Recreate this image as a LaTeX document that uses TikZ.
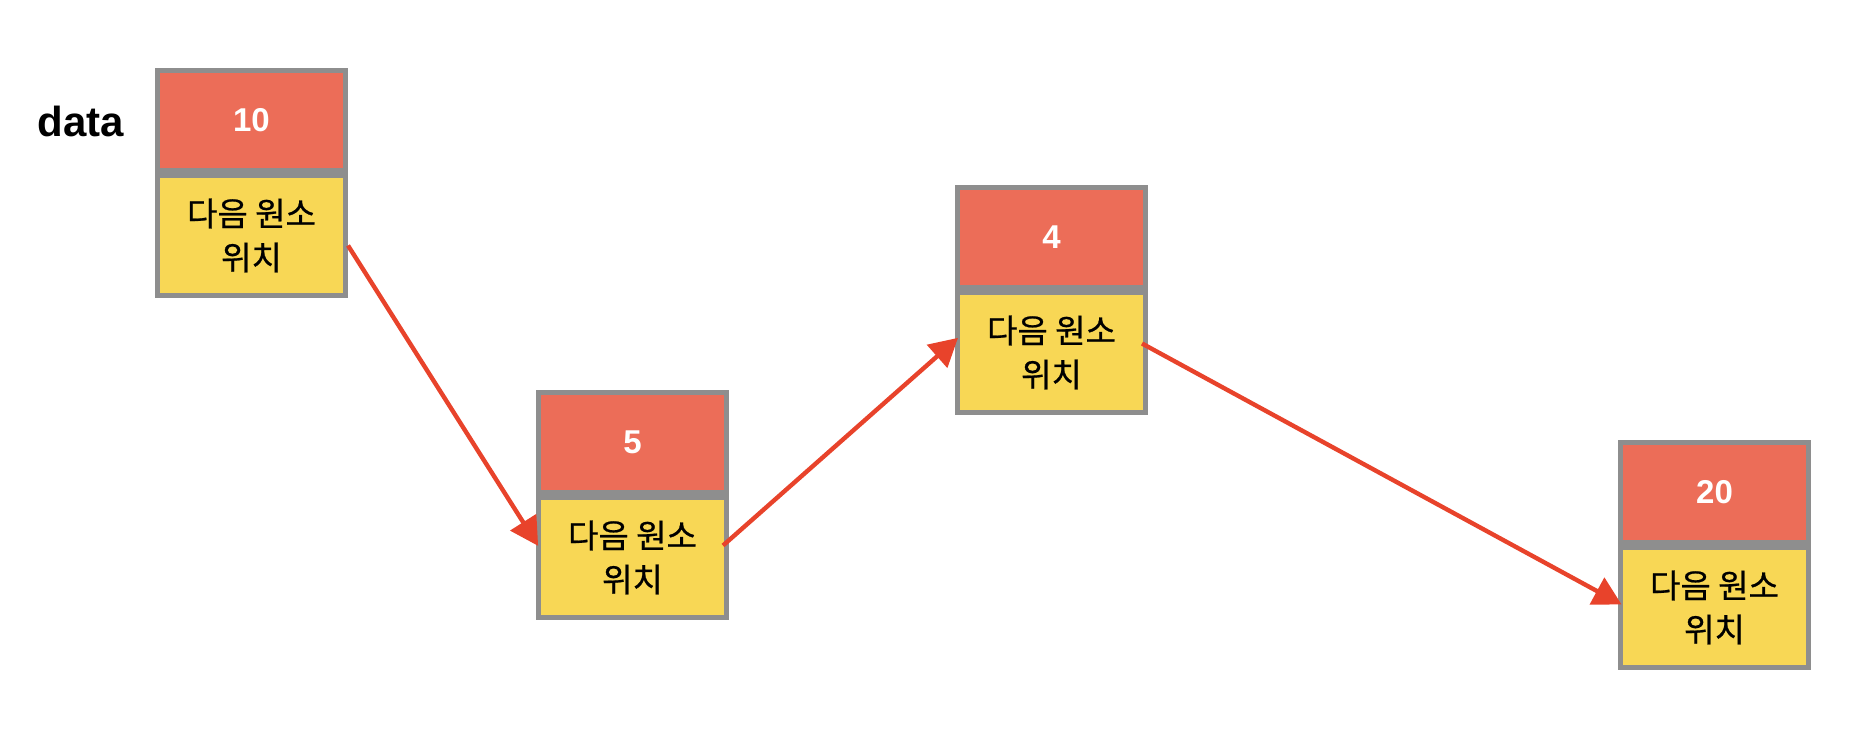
\documentclass[tikz,border=0pt]{standalone}
\usepackage{fontspec}
\setmainfont{Liberation Sans}
\newfontfamily\kofont[FakeBold=0.6]{Noto Sans CJK KR}
\usetikzlibrary{arrows.meta,calc,positioning}
\definecolor{valred}{HTML}{EC6D58}
\definecolor{ptryellow}{HTML}{F8D755}
\definecolor{boxgray}{HTML}{8E8E8E}
\definecolor{arrowred}{HTML}{E8432B}
\tikzset{
  valbox/.style={draw=boxgray, line width=2.5pt, fill=valred, minimum width=94pt, minimum height=50pt,
    inner sep=0pt, text=white, font=\bfseries\fontsize{16.5}{19}\selectfont},
  ptrbox/.style={draw=boxgray, line width=2.5pt, fill=ptryellow, minimum width=94pt, minimum height=60pt,
    inner sep=0pt, anchor=north, align=center, font=\kofont\fontsize{16.5}{22}\selectfont},
  link/.style={draw=arrowred, line width=2.2pt, -{Triangle[length=14pt,width=15pt]}, shorten >=-2pt},
}
\begin{document}
\begin{tikzpicture}[x=0.5pt,y=-0.5pt]
\useasboundingbox (0,0) rectangle (1858,730);
\node[font=\bfseries\fontsize{21}{24}\selectfont, anchor=center] (lbl) at (81,121) {data};
% box 1
\node[valbox] (v1) at (251.5,120.5) {10};
\node[ptrbox] (p1) at (v1.south) {다음 원소\\위치};
% box 2
\node[valbox] (v2) at (632.5,442.5) {5};
\node[ptrbox] (p2) at (v2.south) {다음 원소\\위치};
% box 3
\node[valbox] (v3) at (1051.5,237.5) {4};
\node[ptrbox] (p3) at (v3.south) {다음 원소\\위치};
% box 4
\node[valbox] (v4) at (1714.5,492.5) {20};
\node[ptrbox] (p4) at (v4.south) {다음 원소\\위치};
% links
\draw[link] ($(p1.east)+(0,10)$) -- ($(p2.west)+(0,-15)$);
\draw[link] ($(p2.east)+(-6,-12)$) -- ($(p3.west)+(0,-12)$);
\draw[link] ($(p3.east)+(-6,-9)$) -- ($(p4.west)+(0,-5)$);
\end{tikzpicture}
\end{document}
